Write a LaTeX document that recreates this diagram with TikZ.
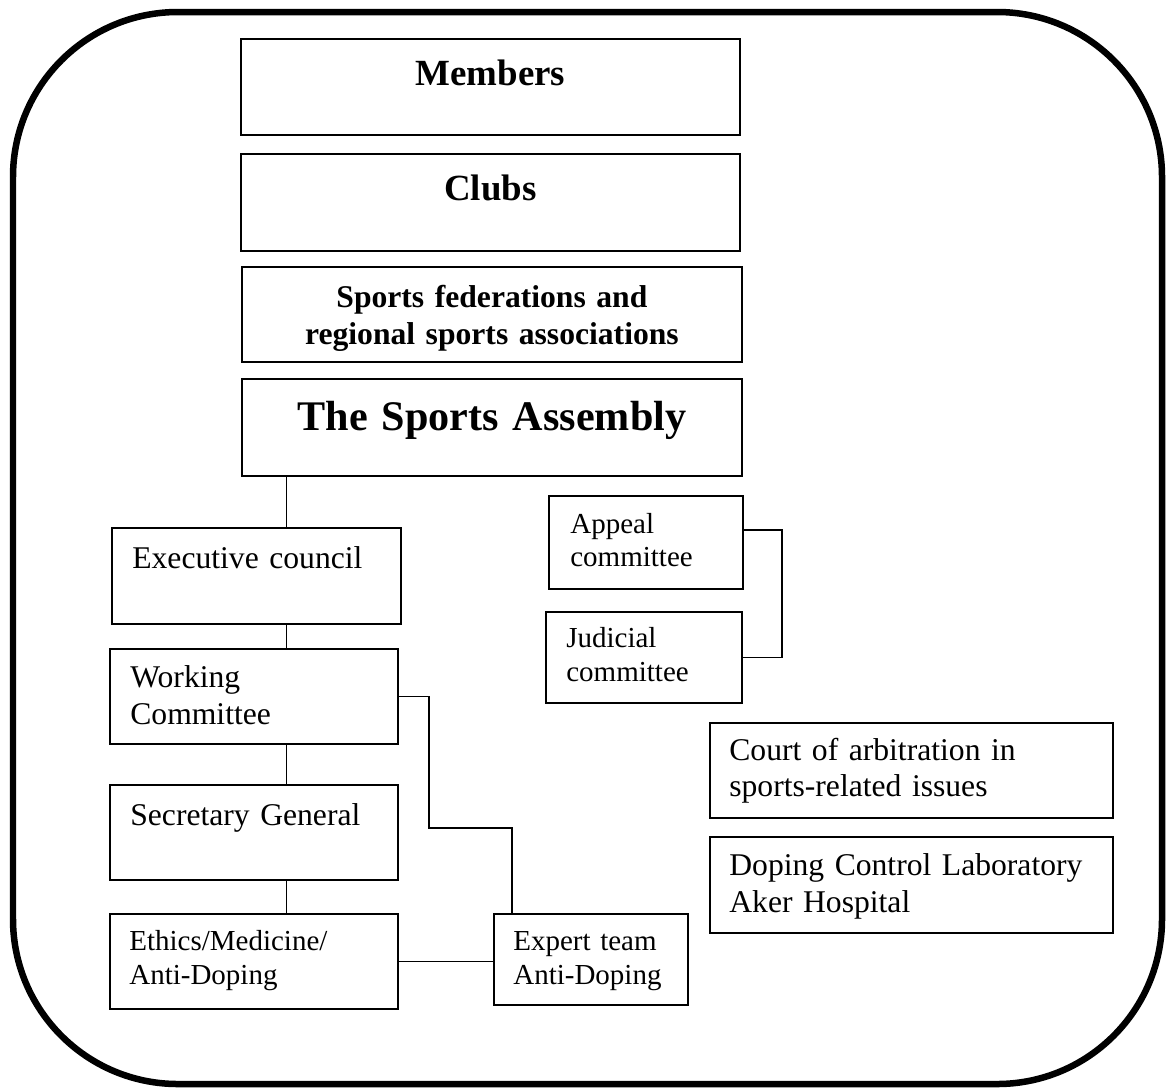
\documentclass[tikz,border=0pt]{standalone}
\usepackage{fontspec}
\setmainfont{Liberation Serif}

\begin{document}
\begin{tikzpicture}[x=0.02cm,y=-0.02cm,
  orgbox/.style={draw,line width=1.1pt,inner sep=0pt,anchor=north west},
  lbl/.style={inner sep=0pt,anchor=base west,text width=7.6cm,align=left,font=\fontsize{18}{21.6}\selectfont},
  lblsmall/.style={lbl,font=\fontsize{16.5}{19.8}\selectfont},
  head/.style={inner sep=0pt,anchor=base,text width=9.6cm,align=center,font=\bfseries\fontsize{21}{25}\selectfont},
  link/.style={line width=1pt}]
\useasboundingbox (0,0) rectangle (1168,1090);
\draw[line width=0.13cm,rounded corners=3.3cm] (13,12) rectangle (1162,1084);

% top column
\node[orgbox,minimum width=9.98cm,minimum height=1.92cm] (members) at (240,38) {};
\node[head] (members-t) at ([shift={(0,47)}]members.north) {Members};
\node[orgbox,minimum width=9.98cm,minimum height=1.94cm] (clubs) at (240,153) {};
\node[head] (clubs-t) at ([shift={(0,47)}]clubs.north) {Clubs};
\node[orgbox,minimum width=10cm,minimum height=1.9cm] (feds) at (241,266) {};
\node[head,font=\bfseries\fontsize{18}{21.6}\selectfont] (feds-t) at ([shift={(0,41)}]feds.north)
  {Sports federations and\\regional sports associations};
\node[orgbox,minimum width=10cm,minimum height=1.94cm] (assembly) at (241,378) {};
\node[head,font=\bfseries\fontsize{24}{28}\selectfont] (assembly-t) at ([shift={(0,52)}]assembly.north) {The Sports Assembly};

% left column
\node[orgbox,minimum width=5.78cm,minimum height=1.92cm] (exec) at (111,527) {};
\node[lbl] (exec-t) at ([shift={(21,41)}]exec.north west) {Executive council};
\node[orgbox,minimum width=5.76cm,minimum height=1.9cm] (work) at (109,648) {};
\node[lbl] (work-t) at ([shift={(21,39)}]work.north west) {Working\\Committee};
\node[orgbox,minimum width=5.76cm,minimum height=1.9cm] (secgen) at (109,784) {};
\node[lbl] (secgen-t) at ([shift={(21,41)}]secgen.north west) {Secretary General};
\node[orgbox,minimum width=5.76cm,minimum height=1.9cm] (ethics) at (109,913) {};
\node[lblsmall] (ethics-t) at ([shift={(20,37)}]ethics.north west) {Ethics/Medicine/\\Anti-Doping};
\node[orgbox,minimum width=3.88cm,minimum height=1.82cm] (expert) at (493,913) {};
\node[lblsmall] (expert-t) at ([shift={(20,37)}]expert.north west) {Expert team\\Anti-Doping};

% right column
\node[orgbox,minimum width=3.88cm,minimum height=1.86cm] (appeal) at (548,495) {};
\node[lblsmall,font=\fontsize{16.5}{19}\selectfont] (appeal-t) at ([shift={(22,38)}]appeal.north west) {Appeal\\committee};
\node[orgbox,minimum width=3.92cm,minimum height=1.82cm] (judicial) at (545,611) {};
\node[lblsmall] (judicial-t) at ([shift={(21,36)}]judicial.north west) {Judicial\\committee};
\node[orgbox,minimum width=8.06cm,minimum height=1.9cm] (court) at (709,722) {};
\node[lbl,font=\fontsize{18}{21}\selectfont] (court-t) at ([shift={(20,38)}]court.north west) {Court of arbitration in\\sports-related issues};
\node[orgbox,minimum width=8.06cm,minimum height=1.92cm] (doping) at (709,836) {};
\node[lbl] (doping-t) at ([shift={(20,39)}]doping.north west) {Doping Control Laboratory\\Aker Hospital};

% connectors
\coordinate (spine) at (286.5,0);
\coordinate (workbend) at (429,828);
\coordinate (appealbend) at (782,600);
\draw[link] (assembly.south -| spine) -- (exec.north -| spine);
\draw[link] (exec.south -| spine) -- (work.north -| spine);
\draw[link] (work.south -| spine) -- (secgen.north -| spine);
\draw[link] (secgen.south -| spine) -- (ethics.north -| spine);
\draw[link] (ethics.east) -- (ethics.east -| expert.west);
\draw[link] (work.east) -| (workbend) -| ([xshift=-1.58cm]expert.north);
\draw[link] ([yshift=0.25cm]appeal.east) -| (appealbend) |- (judicial.east);
\end{tikzpicture}
\end{document}
